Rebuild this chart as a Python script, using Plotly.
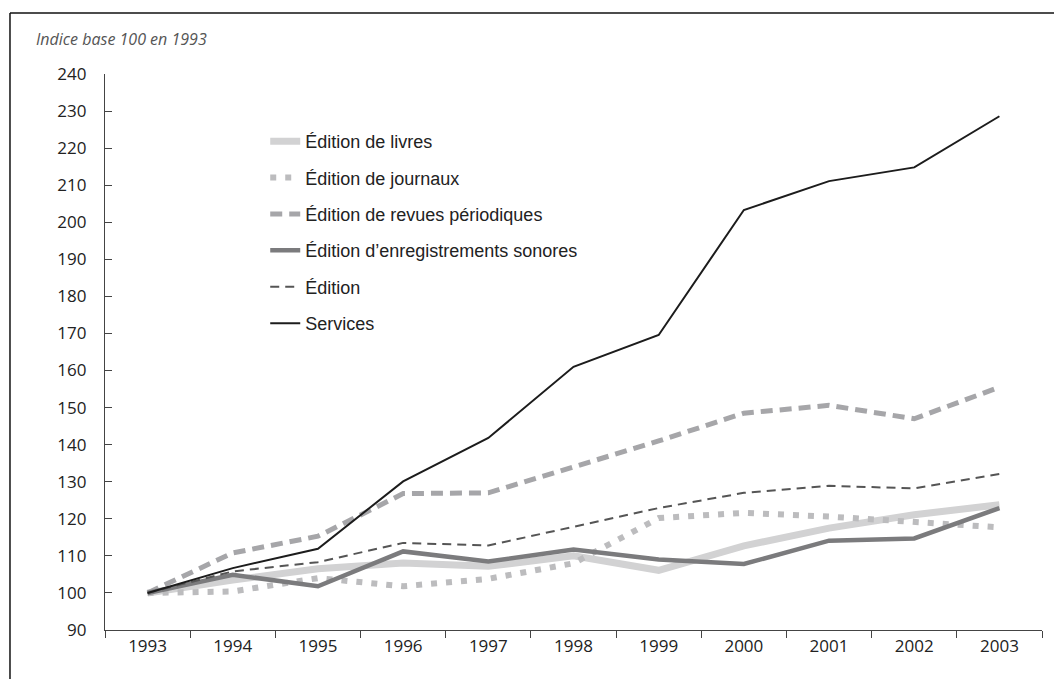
import plotly.graph_objects as go

# Années (catégories de l'axe horizontal)
years = ["1993", "1994", "1995", "1996", "1997", "1998",
         "1999", "2000", "2001", "2002", "2003"]

# Indices base 100 en 1993
livres = [100, 103.5, 106.5, 108.1, 107.2, 110.0, 106.1, 112.7, 117.5, 121.1, 123.8]
journaux = [100, 100.4, 104.0, 101.8, 103.8, 108.0, 120.2, 121.6, 120.6, 119.3, 117.7]
revues = [100, 110.8, 115.3, 126.8, 127.0, 134.0, 141.0, 148.5, 150.6, 147.0, 155.5]
sonores = [100, 104.9, 101.8, 111.2, 108.5, 111.7, 109.0, 107.8, 114.1, 114.7, 122.9]
edition = [100, 105.8, 108.3, 113.5, 112.8, 117.9, 122.9, 127.0, 128.9, 128.2, 132.1]
services = [100, 106.7, 111.9, 130.1, 141.8, 161.0, 169.6, 203.3, 211.1, 214.8, 228.6]

y_ticks = list(range(90, 250, 10))

series = [
    ("Édition de livres", livres, dict(color="#d2d2d3", width=7, dash="solid")),
    ("Édition de journaux", journaux, dict(color="#bcbcbe", width=6, dash="6px,9px")),
    ("Édition de revues périodiques", revues, dict(color="#a6a6a9", width=5, dash="12px,7px")),
    ("Édition d\u2019enregistrements sonores", sonores, dict(color="#7b7b7d", width=4.5, dash="solid")),
    ("Édition", edition, dict(color="#555555", width=2, dash="9px,6px")),
    ("Services", services, dict(color="#1c1c1c", width=2, dash="solid")),
]

fig = go.Figure()
for i, (name, vals, line) in enumerate(series):
    fig.add_trace(go.Scatter(
        x=years, y=vals, name=name, mode="lines", line=line,
        legendgroup=f"g{i}",
    ))

tick_font = dict(family="'Open Sans', sans-serif", size=17, color="#222")

fig.update_layout(
    width=1054, height=679,
    margin=dict(l=105, r=12, t=74, b=49),
    paper_bgcolor="white", plot_bgcolor="white",
    showlegend=True,
    legend=dict(
        x=0.171, y=0.912, xanchor="left", yanchor="top",
        font=dict(family="'Liberation Sans Narrow', 'Liberation Sans', sans-serif",
                  size=18, color="#222"),
        tracegroupgap=10, bgcolor="rgba(0,0,0,0)",
    ),
    xaxis=dict(
        type="category", range=[-0.5, 10.5],
        showline=True, linecolor="#444", linewidth=1.2,
        ticks="outside", tickson="boundaries", ticklen=7, tickcolor="#444",
        showgrid=False, zeroline=False, tickfont=tick_font,
    ),
    yaxis=dict(
        range=[90, 240], tickvals=y_ticks,
        showline=True, linecolor="#444", linewidth=1.2,
        ticks="inside", ticklen=7, tickcolor="#444",
        ticklabelstandoff=14,
        showgrid=False, zeroline=False, tickfont=tick_font,
    ),
    annotations=[dict(
        text="<i>Indice base 100 en 1993</i>", xref="paper", yref="paper",
        x=-0.076, y=1.063, xanchor="left", yanchor="middle", showarrow=False,
        font=dict(family="'Open Sans', sans-serif", size=16, color="#555"),
    )],
    shapes=[
        dict(type="line", xref="paper", yref="paper", x0=-0.1014, x1=1.02,
             y0=1.1097, y1=1.1097, line=dict(color="#111", width=1.5)),
        dict(type="line", xref="paper", yref="paper", x0=-0.1014, x1=-0.1014,
             y0=1.1097, y1=-0.1, line=dict(color="#111", width=1.5)),
    ],
)

# pas de marge autour du graphique dans la page, pas de barre d'outils
fig.write_html("out.html", config={"displayModeBar": False},
               post_script="document.body.style.margin='0';")
